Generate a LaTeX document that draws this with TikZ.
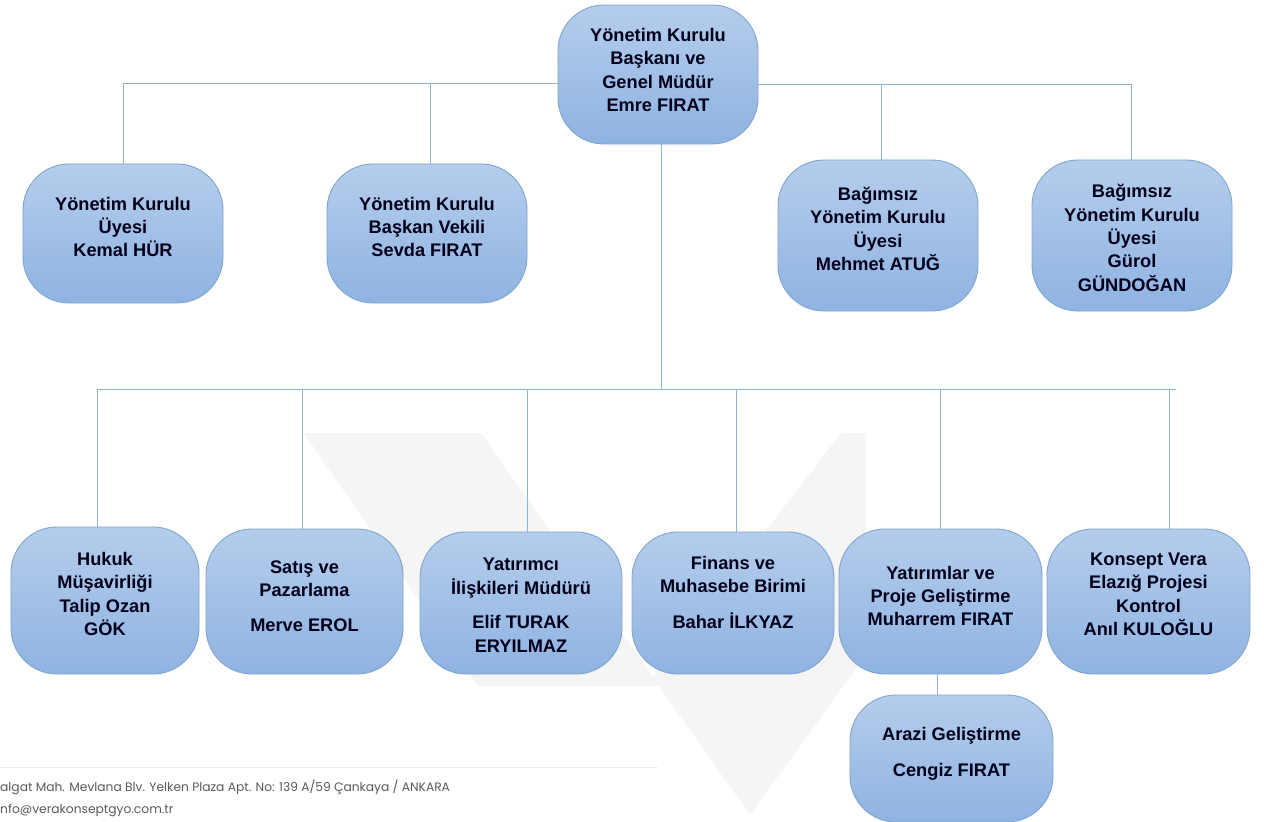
\documentclass[tikz,border=0pt]{standalone}
\usepackage{fontspec}
\setmainfont{Liberation Sans}
\newfontfamily\footfont{Poppins}
\usetikzlibrary{calc}
\definecolor{boxtop}{HTML}{B5CDEB}
\definecolor{boxbot}{HTML}{8FB3E2}
\definecolor{boxline}{HTML}{7FA5CC}
\definecolor{conn}{HTML}{8DB3D3}
\definecolor{wmgray}{HTML}{F5F5F5}
\tikzset{
  orgbox/.style={draw=boxline,line width=0.9pt,rounded corners=46bp,top color=boxtop,bottom color=boxbot,
    inner sep=0pt,outer sep=0pt,font=\fontsize{18.3}{23.4}\selectfont\bfseries,text=black!90!blue},
  link/.style={draw=conn,line width=1bp},
  foot/.style={anchor=west,inner sep=0pt,font=\footfont\fontsize{12.3}{14}\selectfont,text=black!65}
}
% #1 name, #2 left, #3 top, #4 right, #5 bottom, #6 y of text centre, #7 text
\newcommand\orgnode[7]{%
  \pgfmathsetmacro\bw{#4-#2}\pgfmathsetmacro\bh{#5-#3}%
  \pgfmathsetmacro\bx{(#2+#4)/2}\pgfmathsetmacro\by{(#3+#5)/2}%
  \pgfmathsetmacro\dy{\by-#6-4.6}%
  \node[orgbox,minimum width=\bw bp,minimum height=\bh bp] (#1) at (\bx,\by)
    {\smash{\raisebox{\dy bp}{\begin{tabular}[c]{@{}c@{}}#7\end{tabular}}}};%
}
\begin{document}
\begin{tikzpicture}[x=1bp,y=-1bp]
\useasboundingbox (0,0) rectangle (1264,822);
% watermark
\fill[wmgray] (304,433) -- (481,433) -- (653,677) -- (841,433) -- (866,433) -- (866,655) -- (750,815) -- (659,686) -- (478,686) -- cycle;
% footer
\draw[black!7,line width=1pt] (0,767) -- (658,767);
\node[foot] (addr) at (0,787) {algat Mah. Mevlana Blv. Yelken Plaza Apt. No: 139 A/59 Çankaya / ANKARA};
\node[foot] (mail) at (0,810) {nfo@verakonseptgyo.com.tr};
% junctions
\coordinate (jA) at (123,84);
\coordinate (jB) at (430,84);
\coordinate (jC) at (881,85);
\coordinate (jD) at (1131,85);
\coordinate (jM) at (661,389);
\coordinate (jE) at (97,389);
\coordinate (jF) at (302,389);
\coordinate (jG) at (527,389);
\coordinate (jH) at (736,389);
\coordinate (jI) at (940,389);
\coordinate (jJ) at (1169,389);
\coordinate (jEnd) at (1176,389);
\coordinate (jK) at (937,600);
% boxes
\orgnode{top}{558}{5}{758}{144}{71.5}{Yönetim Kurulu\\Başkanı ve\\Genel Müdür\\Emre FIRAT}
\orgnode{kemal}{23}{164}{223}{303}{228.5}{Yönetim Kurulu\\Üyesi\\Kemal HÜR}
\orgnode{sevda}{327}{164}{527}{303}{228.5}{Yönetim Kurulu\\Başkan Vekili\\Sevda FIRAT}
\orgnode{mehmet}{778}{160}{978}{311}{230.5}{Bağımsız\\Yönetim Kurulu\\Üyesi\\Mehmet ATUĞ}
\orgnode{gurol}{1032}{160}{1232}{311}{239.5}{Bağımsız\\Yönetim Kurulu\\Üyesi\\Gürol\\GÜNDOĞAN}
\orgnode{hukuk}{11}{527}{199}{674}{595.5}{Hukuk\\Müşavirliği\\Talip Ozan\\GÖK}
\orgnode{satis}{206}{529}{403}{674}{597.5}{Satış ve\\Pazarlama\\[12bp]Merve EROL}
\orgnode{yatirimci}{420}{532}{622}{674}{606.5}{Yatırımcı\\İlişkileri Müdürü\\[11.5bp]Elif TURAK\\ERYILMAZ}
\orgnode{finans}{632}{532}{834}{674}{594}{Finans ve\\Muhasebe Birimi\\[12bp]Bahar İLKYAZ}
\orgnode{yatirim}{839}{529}{1042}{674}{597.5}{Yatırımlar ve\\Proje Geliştirme\\Muharrem FIRAT}
\orgnode{konsept}{1047}{529}{1250}{674}{595.5}{Konsept Vera\\Elazığ Projesi\\Kontrol\\Anıl KULOĞLU}
\orgnode{arazi}{850}{695}{1053}{822}{753.5}{Arazi Geliştirme\\[13.5bp]Cengiz FIRAT}
% connectors
\draw[link] (top.west |- jA) -- (jA) -- (jA |- kemal.north);
\draw[link] (jB) -- (jB |- sevda.north);
\draw[link] (top.east |- jD) -- (jD) -- (jD |- gurol.north);
\draw[link] (jC) -- (jC |- mehmet.north);
\draw[link] (jM |- top.south) -- (jM);
\draw[link] (jE) -- (jEnd);
\draw[link] (jE) -- (jE |- hukuk.north);
\draw[link] (jF) -- (jF |- satis.north);
\draw[link] (jG) -- (jG |- yatirimci.north);
\draw[link] (jH) -- (jH |- finans.north);
\draw[link] (jI) -- (jI |- yatirim.north);
\draw[link] (jJ) -- (jJ |- konsept.north);
\draw[link] (jK |- yatirim.south) -- (jK |- arazi.north);
\end{tikzpicture}
\end{document}
